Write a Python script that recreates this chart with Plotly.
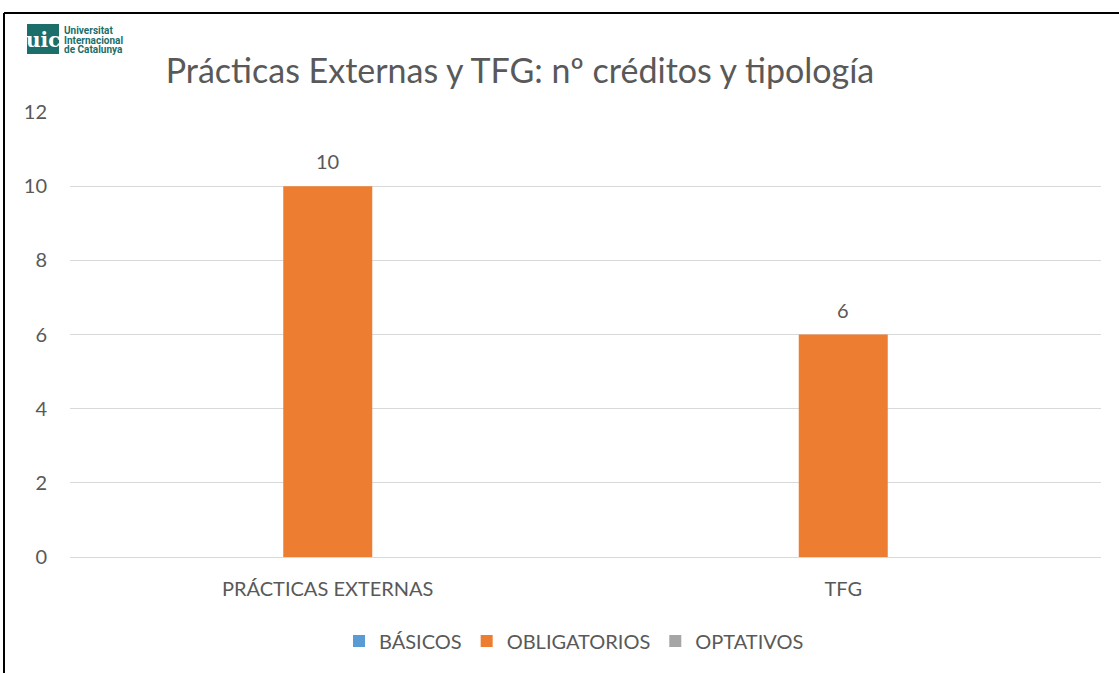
import plotly.graph_objects as go

# Credit data per block and typology
categories = ["PRÁCTICAS EXTERNAS", "TFG"]
basicos = [0, 0]
obligatorios = [10, 6]
optativos = [0, 0]
y_ticks = [0, 2, 4, 6, 8, 10, 12]

TXT = "#595959"
FONT = "Lato"
TEAL = "#1B6E6A"

fig = go.Figure()
series = [
    ("BÁSICOS", basicos, "#5B9BD5"),
    ("OBLIGATORIOS", obligatorios, "#ED7D31"),
    ("OPTATIVOS", optativos, "#A5A5A5"),
]
for name, vals, col in series:
    fig.add_trace(go.Bar(
        x=categories, y=vals, name=name,
        marker=dict(color=col, line=dict(width=0)),
    ))

# value labels above the OBLIGATORIOS bars
for cat, v in zip(categories, obligatorios):
    fig.add_annotation(x=cat, y=v, text=str(v), showarrow=False,
                       yshift=25, font=dict(family=FONT, size=20, color=TXT))


def px(x):
    return (x - 70) / 1031


def py(y):
    return (557 - y) / 445


# outer frame (top and left edges)
fig.add_shape(type="line", xref="paper", yref="paper",
              x0=px(4), x1=1.05, y0=py(13), y1=py(13),
              line=dict(color="black", width=2))
fig.add_shape(type="line", xref="paper", yref="paper",
              x0=px(4), x1=px(4), y0=py(13), y1=-0.3,
              line=dict(color="black", width=2))

# university logo
fig.add_shape(type="rect", xref="paper", yref="paper",
              x0=px(27), x1=px(59), y0=py(24), y1=py(54),
              fillcolor=TEAL, line=dict(width=0))
fig.add_annotation(xref="paper", yref="paper", x=px(43), y=py(40), text="<b>uic</b>",
                   xanchor="center", yanchor="middle", showarrow=False,
                   font=dict(family="DejaVu Serif", size=20, color="white"))
for i, line in enumerate(["Universitat", "Internacional", "de Catalunya"]):
    fig.add_annotation(xref="paper", yref="paper", x=px(62), y=py(30 + 10 * i),
                       xanchor="left", yanchor="middle", text=f"<b>{line}</b>",
                       showarrow=False,
                       font=dict(family="Roboto", size=10, color=TEAL))

fig.update_layout(
    width=1119, height=673,
    margin=dict(l=70, r=18, t=112, b=116),
    paper_bgcolor="white", plot_bgcolor="white",
    barmode="group", bargap=0.482, bargroupgap=0,
    title=dict(text="Prácticas Externas y TFG: nº créditos y tipología",
               x=520 / 1119, xanchor="center", y=1 - 71 / 673, yanchor="middle",
               font=dict(family=FONT, size=34, color=TXT)),
    font=dict(family=FONT, color=TXT),
    legend=dict(orientation="h", x=px(574), xanchor="center", y=py(641), yanchor="middle",
                font=dict(family=FONT, size=20, color=TXT), itemwidth=30,
                traceorder="normal"),
    showlegend=True,
    xaxis=dict(showgrid=False, showline=False, ticks="",
               tickfont=dict(family=FONT, size=20, color=TXT), ticklabelstandoff=18),
    yaxis=dict(range=[0, 12], tickvals=y_ticks, showgrid=True, gridcolor="#D9D9D9",
               gridwidth=1, zeroline=True, zerolinecolor="#D9D9D9", zerolinewidth=1,
               showline=False, ticks="", tickfont=dict(family=FONT, size=20, color=TXT),
               ticklabelstandoff=22),
)

fig.write_html("out.html")
